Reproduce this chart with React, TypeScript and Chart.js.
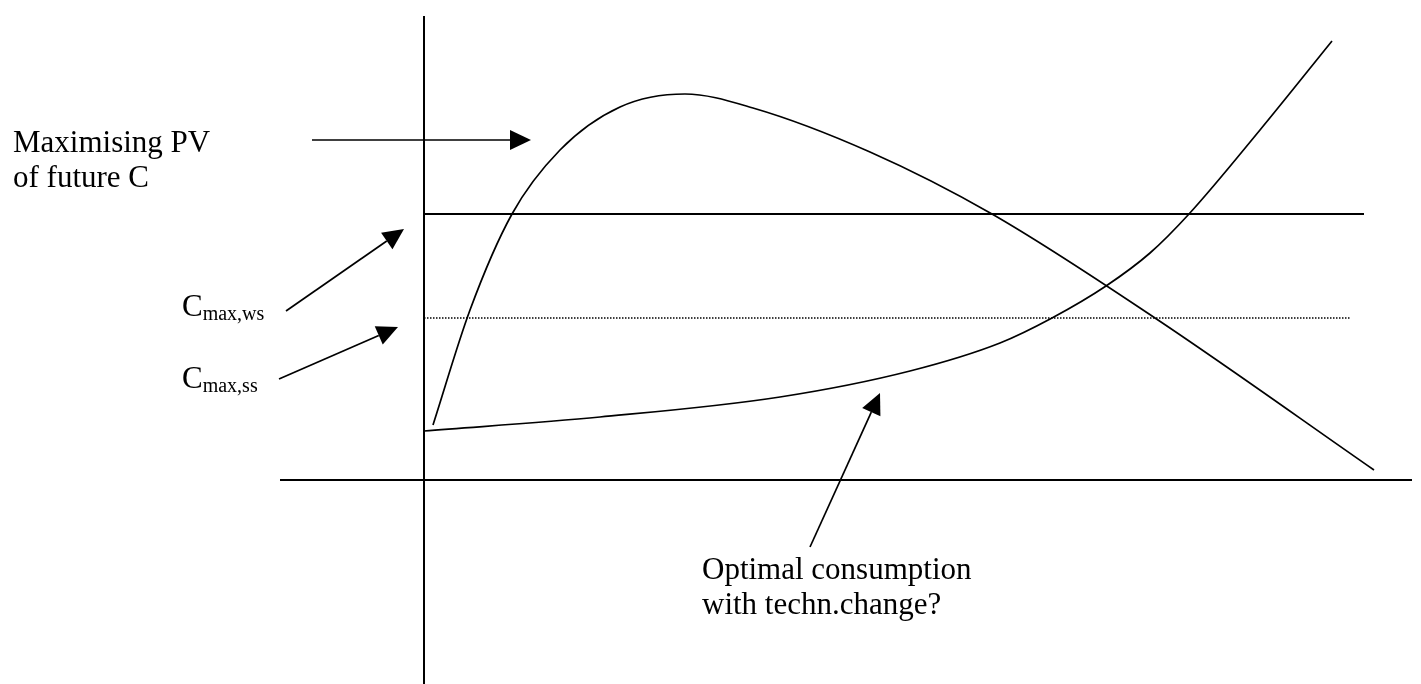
import React, { useEffect, useRef } from "react";
import { Chart, registerables } from "chart.js";

Chart.register(...registerables);

// ---- scale ranges (time on x, consumption on y; arbitrary units) ----
const xRange = [-4.24, 9.97];
const yRange = [-2.04, 4.8];

// ---- axes ----
const horizontalAxisX = [-1.44, 9.88];
const verticalAxisY = [-2.04, 4.64];

// ---- constant consumption levels ----
const cMaxWs = 2.66;
const cMaxSs = 1.62;
const wsLineX = [0, 9.4];
const ssLineX = [0, 9.26];

// ---- "Maximising PV of future C" hump curve ----
const pvCurveX = [0.09, 0.46, 0.88, 1.36, 1.96, 2.61, 3.29, 4.46, 5.68, 7.31, 9.5];
const pvCurveY = [0.55, 1.7, 2.66, 3.3, 3.73, 3.86, 3.72, 3.28, 2.66, 1.62, 0.1];

// ---- "Optimal consumption with techn. change" rising curve ----
const techCurveX = [0, 1.76, 3.56, 4.86, 5.76, 6.28, 6.82, 7.26, 7.65, 8.36, 9.08];
const techCurveY = [0.49, 0.63, 0.83, 1.09, 1.37, 1.62, 1.94, 2.27, 2.66, 3.5, 4.39];

// ---- annotation arrows: [fromX, fromY, toX, toY] ----
const arrowPV = [-1.12, 3.4, 1.07, 3.4];
const arrowWs = [-1.38, 1.69, -0.2, 2.51];
const arrowSs = [-1.45, 1.01, -0.26, 1.53];
const arrowTech = [3.86, -0.67, 4.56, 0.87];

// ---- annotation texts ----
const pvLabelLines = ["Maximising PV", "of future C"];
const pvLabelAnchor = [-4.11, 3.28];
const techLabelLines = ["Optimal consumption", "with techn.change?"];
const techLabelAnchor = [2.78, -0.99];
const wsLabel = ["C", "max,ws"];
const wsLabelAnchor = [-2.42, 1.64];
const ssLabel = ["C", "max,ss"];
const ssLabelAnchor = [-2.42, 0.92];

const FONT = '"Liberation Serif", "Times New Roman", serif';

const zip = (xs: number[], ys: number[]) => xs.map((x, i) => ({ x, y: ys[i] }));

export default function App() {
  const ref = useRef<HTMLCanvasElement | null>(null);

  useEffect(() => {
    if (!ref.current) return;

    const annotations = {
      id: "annotations",
      afterDatasetsDraw(chart: any) {
        const ctx = chart.ctx;
        const sx = chart.scales.x;
        const sy = chart.scales.y;
        const px = (v: number) => sx.getPixelForValue(v);
        const py = (v: number) => sy.getPixelForValue(v);

        const drawArrow = (a: number[]) => {
          const x0 = px(a[0]), y0 = py(a[1]), x1 = px(a[2]), y1 = py(a[3]);
          const ang = Math.atan2(y1 - y0, x1 - x0);
          const headLen = 21;
          const headHalf = 10;
          const bx = x1 - headLen * Math.cos(ang);
          const by = y1 - headLen * Math.sin(ang);
          ctx.save();
          ctx.strokeStyle = "#000";
          ctx.fillStyle = "#000";
          ctx.lineWidth = 1.7;
          ctx.beginPath();
          ctx.moveTo(x0, y0);
          ctx.lineTo(bx, by);
          ctx.stroke();
          ctx.beginPath();
          ctx.moveTo(x1, y1);
          ctx.lineTo(bx + headHalf * Math.sin(ang), by - headHalf * Math.cos(ang));
          ctx.lineTo(bx - headHalf * Math.sin(ang), by + headHalf * Math.cos(ang));
          ctx.closePath();
          ctx.fill();
          ctx.restore();
        };

        [arrowPV, arrowWs, arrowSs, arrowTech].forEach(drawArrow);

        ctx.save();
        ctx.fillStyle = "#000";
        ctx.textBaseline = "alphabetic";
        ctx.textAlign = "left";
        ctx.font = `31px ${FONT}`;
        const lineGap = 35;
        pvLabelLines.forEach((t, i) => {
          ctx.fillText(t, px(pvLabelAnchor[0]), py(pvLabelAnchor[1]) + i * lineGap);
        });
        techLabelLines.forEach((t, i) => {
          ctx.fillText(t, px(techLabelAnchor[0]), py(techLabelAnchor[1]) + i * lineGap);
        });
        const drawSub = (lab: string[], anchor: number[]) => {
          const x = px(anchor[0]);
          const y = py(anchor[1]);
          ctx.font = `31px ${FONT}`;
          ctx.fillText(lab[0], x, y);
          const w = ctx.measureText(lab[0]).width;
          ctx.font = `20px ${FONT}`;
          ctx.fillText(lab[1], x + w, y + 4);
        };
        drawSub(wsLabel, wsLabelAnchor);
        drawSub(ssLabel, ssLabelAnchor);
        ctx.restore();
      },
    };

    const base = {
      showLine: true,
      pointRadius: 0,
      pointHoverRadius: 0,
      borderColor: "#000",
      backgroundColor: "#000",
      fill: false,
      clip: false as any,
    };

    const chart = new Chart(ref.current, {
      type: "scatter",
      data: {
        datasets: [
          { ...base, label: "time axis", data: zip(horizontalAxisX, [0, 0]), borderWidth: 2 },
          { ...base, label: "consumption axis", data: zip([0, 0], verticalAxisY), borderWidth: 2 },
          { ...base, label: "C max,ws", data: zip(wsLineX, [cMaxWs, cMaxWs]), borderWidth: 2 },
          { ...base, label: "C max,ss", data: zip(ssLineX, [cMaxSs, cMaxSs]), borderWidth: 1.3, borderDash: [1.5, 1.5] },
          { ...base, label: "Maximising PV of future C", data: zip(pvCurveX, pvCurveY), borderWidth: 1.7, cubicInterpolationMode: "monotone" },
          { ...base, label: "Optimal consumption with techn.change", data: zip(techCurveX, techCurveY), borderWidth: 1.7, cubicInterpolationMode: "monotone" },
        ],
      },
      options: {
        animation: false,
        responsive: false,
        maintainAspectRatio: false,
        layout: { padding: 0 },
        events: [],
        plugins: {
          legend: { display: false },
          tooltip: { enabled: false },
          title: { display: false },
        },
        scales: {
          x: { type: "linear", min: xRange[0], max: xRange[1], display: false },
          y: { type: "linear", min: yRange[0], max: yRange[1], display: false },
        },
      },
      plugins: [annotations],
    });

    return () => chart.destroy();
  }, []);

  return (
    <div style={{ position: "fixed", left: 0, top: 0, width: 1421, height: 684, background: "#fff" }}>
      <canvas ref={ref} width={1421} height={684} style={{ display: "block" }} />
    </div>
  );
}
